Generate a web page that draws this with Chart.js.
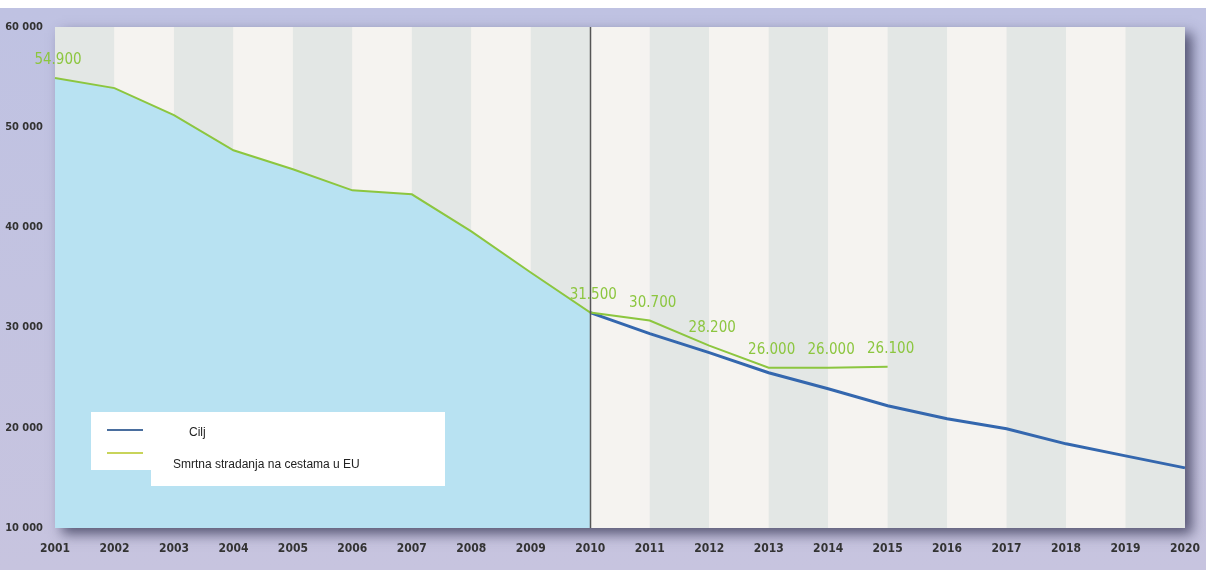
<!DOCTYPE html>
<html>
<head>
<meta charset="utf-8">
<script src="https://cdn.jsdelivr.net/npm/chart.js@4/dist/chart.umd.min.js"></script>
<style>
  html, body { margin: 0; padding: 0; }
  body { width: 1206px; height: 570px; background: linear-gradient(#ffffff 0, #ffffff 8px, #bfc2e2 8px, #c7c4df 100%); }
  #wrap { width: 1206px; height: 570px; position: relative; }
</style>
</head>
<body>
<div id="wrap"><canvas id="chart" width="1206" height="570"></canvas></div>
<script>
const years = ['2001','2002','2003','2004','2005','2006','2007','2008','2009','2010',
               '2011','2012','2013','2014','2015','2016','2017','2018','2019','2020'];
const deaths = [54900, 53900, 51200, 47700, 45800, 43700, 43300, 39600, 35500, 31500,
                30700, 28200, 26000, 26000, 26100, null, null, null, null, null];
const target = [null, null, null, null, null, null, null, null, null, 31500,
                29400, 27500, 25500, 23900, 22200, 20900, 19900, 18400, 17200, 16000];
const pastArea = [54900, 53900, 51200, 47700, 45800, 43700, 43300, 39600, 35500, 31500,
                  null, null, null, null, null, null, null, null, null, null];
const labelled = ['54.900', null, null, null, null, null, null, null, null, '31.500',
                  '30.700', '28.200', '26.000', '26.000', '26.100', null, null, null, null, null];
const yTicks = [10000, 20000, 30000, 40000, 50000, 60000];

const font = "'DejaVu Sans Condensed', 'Liberation Sans Narrow', sans-serif";
const green = '#8cc63f';
const blue = '#3467ae';

// panel with shadow and year stripes
const panel = {
  id: 'panel',
  beforeDraw(chart) {
    const { ctx, chartArea: a, scales: { x } } = chart;
    ctx.save();
    ctx.shadowColor = 'rgba(50,50,80,0.75)';
    ctx.shadowBlur = 12;
    ctx.shadowOffsetX = 7;
    ctx.shadowOffsetY = 6;
    ctx.fillStyle = '#f5f3f0';
    ctx.fillRect(a.left, a.top, a.right - a.left, a.bottom - a.top);
    ctx.restore();
    ctx.save();
    for (let i = 0; i < years.length - 1; i++) {
      const x0 = x.getPixelForValue(i), x1 = x.getPixelForValue(i + 1);
      ctx.fillStyle = i % 2 === 0 ? '#e3e7e5' : '#f5f3f0';
      ctx.fillRect(x0, a.top, x1 - x0, a.bottom - a.top);
    }
    ctx.restore();
  }
};

const extras = {
  id: 'extras',
  afterDatasetsDraw(chart) {
    const { ctx, chartArea: a, scales: { x, y } } = chart;
    ctx.save();
    // divider at 2010
    const xv = Math.round(x.getPixelForValue(9)) + 0.5;
    ctx.strokeStyle = '#555';
    ctx.lineWidth = 1.5;
    ctx.beginPath();
    ctx.moveTo(xv, a.top);
    ctx.lineTo(xv, a.bottom);
    ctx.stroke();
    // value labels
    ctx.fillStyle = green;
    ctx.font = '15px ' + font;
    ctx.textAlign = 'center';
    ctx.textBaseline = 'bottom';
    labelled.forEach((t, i) => {
      if (!t) return;
      const px = x.getPixelForValue(i);
      ctx.fillText(t, px + 3, y.getPixelForValue(deaths[i]) - 10);
    });
    // legend
    ctx.fillStyle = '#ffffff';
    ctx.fillRect(91, 412, 354, 58);
    ctx.fillRect(151, 412, 294, 74);
    ctx.lineWidth = 2;
    ctx.strokeStyle = '#4a6e9e';
    ctx.beginPath(); ctx.moveTo(107, 430); ctx.lineTo(143, 430); ctx.stroke();
    ctx.strokeStyle = '#c8d45a';
    ctx.beginPath(); ctx.moveTo(107, 453); ctx.lineTo(143, 453); ctx.stroke();
    ctx.fillStyle = '#222';
    ctx.font = '12px Arial, "Liberation Sans", sans-serif';
    ctx.textAlign = 'left';
    ctx.textBaseline = 'middle';
    ctx.fillText('Cilj', 189, 433);
    ctx.fillText('Smrtna stradanja na cestama u EU', 173, 465);
    ctx.restore();
  }
};

new Chart(document.getElementById('chart'), {
  type: 'line',
  data: {
    labels: years,
    datasets: [
      { label: 'area', data: pastArea, borderWidth: 0, pointRadius: 0,
        backgroundColor: '#b8e2f2', fill: 'start', order: 3 },
      { label: 'Cilj', data: target, borderColor: blue, borderWidth: 3,
        pointRadius: 0, fill: false, order: 2 },
      { label: 'Smrtna stradanja na cestama u EU', data: deaths, borderColor: green,
        borderWidth: 2, pointRadius: 0, fill: false, order: 1 }
    ]
  },
  options: {
    responsive: false,
    animation: false,
    devicePixelRatio: 1,
    layout: { padding: { top: 27, right: 4, left: 0, bottom: 0 } },
    plugins: { legend: { display: false }, tooltip: { enabled: false } },
    scales: {
      x: {
        offset: false,
        grid: { display: false },
        border: { display: false },
        ticks: { color: '#333', font: { family: font, size: 12, weight: 'bold' }, padding: 6, maxRotation: 0, autoSkip: false },
        afterFit: s => { s.height = 42; }
      },
      y: {
        min: 10000, max: 60000,
        grid: { display: false },
        border: { display: false },
        afterBuildTicks: s => { s.ticks = yTicks.map(v => ({ value: v })); },
        ticks: {
          color: '#333', padding: 4,
          font: { family: font, size: 11, weight: 'bold' },
          callback: v => String(v).replace(/\B(?=(\d{3})+(?!\d))/g, ' ')
        },
        afterFit: s => { s.width = 55; }
      }
    }
  },
  plugins: [panel, extras]
});
</script>
</body>
</html>
